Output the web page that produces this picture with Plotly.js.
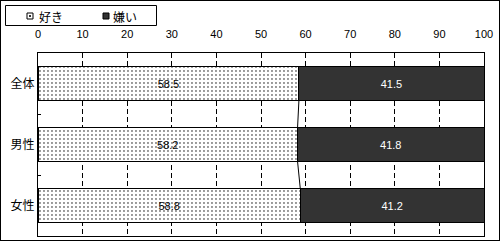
<!DOCTYPE html>
<html>
<head>
<meta charset="utf-8">
<script src="https://cdn.plot.ly/plotly-3.0.1.min.js"></script>
<style>
html,body{margin:0;padding:0;background:#fff;}
#wrap{position:relative;width:500px;height:241px;}
#chart{width:500px;height:241px;}
#frame{position:absolute;left:0;top:0;width:498px;height:239px;border:1px solid #000;pointer-events:none;}
</style>
</head>
<body>
<div id="wrap"><div id="chart"></div><div id="frame"></div></div>
<script>
const categories = ['全体', '男性', '女性'];
const likeValues = [58.5, 58.2, 58.8];
const dislikeValues = [41.5, 41.8, 41.2];
const seriesNames = ['好き', '嫌い'];
const xTicks = [0, 10, 20, 30, 40, 50, 60, 70, 80, 90, 100];

const barWidth = 0.56;
const numFont = 'Liberation Sans, Arial, sans-serif';
const jpFont = '"Noto Sans CJK JP", sans-serif';
const darkColor = '#333333';

const M = {l: 38, r: 16, t: 53, b: 5};
const W = 500, H = 241;
const pw = W - M.l - M.r, ph = H - M.t - M.b;
const px = v => (v - M.l) / pw;          // pixel x -> paper x
const py = v => (H - M.b - v) / ph;      // pixel y -> paper y

const traces = [
  {
    type: 'bar', orientation: 'h', name: seriesNames[0],
    y: categories, x: likeValues, width: barWidth,
    marker: {color: '#ffffff', line: {color: '#000', width: 1},
             pattern: {shape: '.', fgcolor: '#000', bgcolor: '#fff', size: 4, solidity: 0.1}},
    texttemplate: '%{x:.1f}', textposition: 'inside', insidetextanchor: 'middle',
    textfont: {family: numFont, size: 11, color: '#000'}, hoverinfo: 'skip'
  },
  {
    type: 'bar', orientation: 'h', name: seriesNames[1],
    y: categories, x: dislikeValues, width: barWidth,
    marker: {color: darkColor, line: {color: '#000', width: 1}},
    texttemplate: '%{x:.1f}', textposition: 'inside', insidetextanchor: 'middle',
    textfont: {family: numFont, size: 11, color: '#fff'}, hoverinfo: 'skip'
  }
];

const shapes = [];
for (let i = 0; i < categories.length - 1; i++) {
  shapes.push({type: 'line', xref: 'x', yref: 'y',
    x0: likeValues[i], y0: i + barWidth / 2, x1: likeValues[i + 1], y1: i + 1 - barWidth / 2,
    line: {color: '#000', width: 1}});
}
// legend (drawn manually to match the compact box)
shapes.push({type: 'rect', xref: 'paper', yref: 'paper',
  x0: px(5.5), x1: px(156.5), y0: py(25.5), y1: py(5.5),
  line: {color: '#000', width: 1}, fillcolor: '#fff', layer: 'above'});
shapes.push({type: 'rect', xref: 'paper', yref: 'paper',
  x0: px(27), x1: px(33), y0: py(19), y1: py(13),
  line: {color: '#000', width: 1}, fillcolor: '#fff', layer: 'above'});
shapes.push({type: 'rect', xref: 'paper', yref: 'paper',
  x0: px(29.5), x1: px(30.5), y0: py(16.5), y1: py(15.5),
  line: {color: '#000', width: 1}, fillcolor: '#000', layer: 'above'});
shapes.push({type: 'rect', xref: 'paper', yref: 'paper',
  x0: px(103), x1: px(109), y0: py(19), y1: py(13),
  line: {color: '#000', width: 1}, fillcolor: darkColor, layer: 'above'});

const annotations = [
  {xref: 'paper', yref: 'paper', x: px(37), y: py(16), xanchor: 'left', yanchor: 'middle',
   text: seriesNames[0], showarrow: false, font: {family: jpFont, size: 12, color: '#000'}},
  {xref: 'paper', yref: 'paper', x: px(111), y: py(16), xanchor: 'left', yanchor: 'middle',
   text: seriesNames[1], showarrow: false, font: {family: jpFont, size: 12, color: '#000'}}
];

const layout = {
  width: W, height: H,
  margin: M,
  paper_bgcolor: '#fff', plot_bgcolor: '#fff',
  barmode: 'stack',
  showlegend: false,
  xaxis: {side: 'top', range: [0, 100], tickvals: xTicks, ticks: '', ticklabelstandoff: 10,
          showgrid: true, gridcolor: '#000', gridwidth: 1, griddash: '5px,3px',
          showline: true, linecolor: '#000', linewidth: 1, mirror: true,
          zeroline: false, tickfont: {family: numFont, size: 11, color: '#000'}, fixedrange: true},
  yaxis: {type: 'category', range: [2.5, -0.5], ticks: 'inside', tickson: 'boundaries',
          ticklen: 3, tickcolor: '#000', showgrid: false,
          showline: true, linecolor: '#000', linewidth: 1, mirror: true,
          tickfont: {family: jpFont, size: 12, color: '#000'}, fixedrange: true},
  shapes: shapes,
  annotations: annotations
};

Plotly.newPlot('chart', traces, layout, {displayModeBar: false, staticPlot: true});
</script>
</body>
</html>
